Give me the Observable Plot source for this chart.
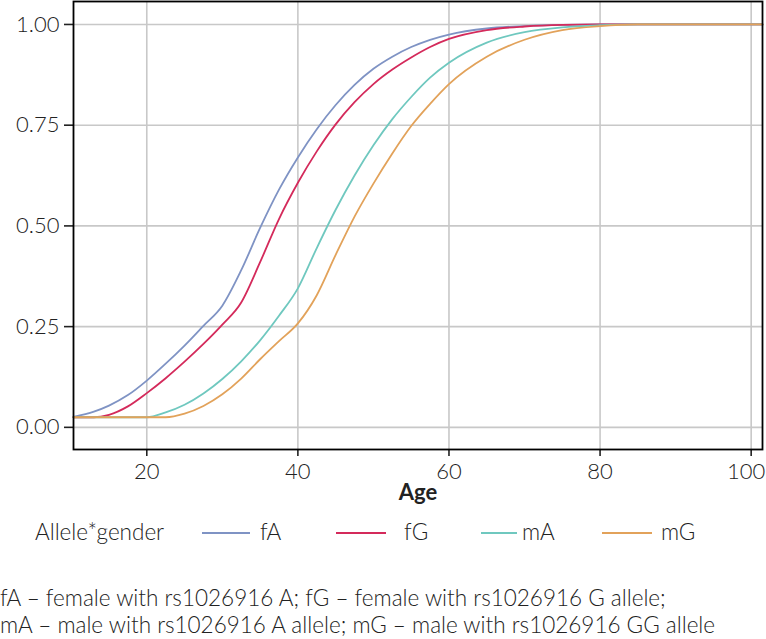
<!DOCTYPE html>
<html><head><meta charset="utf-8">
<script src="https://cdn.jsdelivr.net/npm/d3@7"></script>
<script src="https://cdn.jsdelivr.net/npm/@observablehq/plot@0.6"></script>
<style>
body{margin:0;background:#fff;}
#wrap{position:relative;width:766px;height:639px;overflow:hidden;font-family:Lato,"Open Sans",sans-serif;font-weight:300;color:#222;font-size:22.5px;}
#chart{position:absolute;left:0;top:0;}
g[aria-label="x-axis label"] text{font-weight:700;}
.leg{position:absolute;top:518px;line-height:28px;white-space:nowrap;}
.sw{position:absolute;top:532px;height:2px;}
#caption{position:absolute;left:0;top:585px;line-height:26.5px;white-space:nowrap;}
</style></head><body>
<div id="wrap"><div id="chart"></div><div id="legend"></div>
<div id="caption">fA – female with rs1026916 A; fG – female with rs1026916 G allele;<br>mA – male with rs1026916 A allele; mG – male with rs1026916 GG allele</div></div>
<script>
const ages = [10.3,13,15,17.5,20,22.5,25,27.5,30,32.5,35,37.5,40,42.5,45,47.5,50,52.5,55,57.5,60,65,70,75,80,85,90,101.5];
const fA = [0.026,0.039,0.054,0.080,0.116,0.158,0.203,0.252,0.302,0.390,0.495,0.590,0.670,0.740,0.800,0.850,0.890,0.920,0.944,0.962,0.975,0.990,0.996,0.999,1,1,1,1];
const fG = [0.025,0.025,0.031,0.052,0.085,0.122,0.163,0.207,0.255,0.310,0.410,0.517,0.607,0.685,0.752,0.807,0.852,0.888,0.918,0.944,0.964,0.986,0.995,0.999,1,1,1,1];
const mA = [0.025,0.025,0.025,0.025,0.025,0.037,0.056,0.084,0.120,0.164,0.216,0.277,0.345,0.445,0.540,0.625,0.700,0.765,0.820,0.868,0.905,0.955,0.981,0.993,0.998,1,1,1];
const mG = [0.025,0.025,0.025,0.025,0.025,0.025,0.034,0.053,0.082,0.121,0.169,0.214,0.258,0.328,0.428,0.523,0.605,0.680,0.748,0.803,0.852,0.920,0.962,0.986,0.996,1,1,1];
const seriesNames = ["fA","fG","mA","mG"];
const seriesColors = ["#7f93c4","#d42a5b","#6fc8bf","#e2a25a"];
const xTicks = [20,40,60,80,100];
const yTicks = [0,0.25,0.5,0.75,1];
const legendTitle = "Allele*gender";

const values = [fA,fG,mA,mG];
const rows = seriesNames.flatMap((s,i)=>ages.map((a,j)=>({age:a,p:values[i][j],group:s})));
const lastTick = xTicks[xTicks.length-1];

const chart = Plot.plot({
  width:766,height:510,marginLeft:73,marginRight:4,marginTop:1,marginBottom:61,
  style:{fontFamily:'Lato,"Open Sans",sans-serif',fontSize:"22px",fontWeight:300,color:"#222",background:"white"},
  x:{domain:[10.3,101.5]},
  y:{domain:[-0.055,1.057]},
  color:{domain:seriesNames,range:seriesColors},
  marks:[
    Plot.gridX(xTicks,{stroke:"#c8c8c8",strokeOpacity:1,strokeWidth:1.6}),
    Plot.gridY(yTicks,{stroke:"#c8c8c8",strokeOpacity:1,strokeWidth:1.6}),
    Plot.line(rows,{x:"age",y:"p",stroke:"group",strokeWidth:1.8,curve:"monotone-x"}),
    Plot.axisX(xTicks,{tickSize:7,tickFormat:()=>"",strokeWidth:1.6,label:"Age",labelAnchor:"center",labelArrow:"none",labelOffset:50}),
    Plot.axisX(xTicks.filter(d=>d!==lastTick),{tickSize:0,tickPadding:14,label:null}),
    Plot.axisX([lastTick],{tickSize:0,tickPadding:14,dx:-5,label:null}),
    Plot.axisY(yTicks,{tickSize:9,tickPadding:5,strokeWidth:1.6,tickFormat:d3.format(".2f"),label:null}),
    Plot.frame({stroke:"black",strokeWidth:1.8})
  ]
});
document.getElementById("chart").appendChild(chart);

const leg = document.getElementById("legend");
const swLeft = [202,336,481,602], swW = [48,50,36,50], labLeft = [260,404,522,661];
function add(cls, left, html, style){const d=document.createElement("div");d.className=cls;d.style.left=left+"px";if(style)Object.assign(d.style,style);d.innerHTML=html;leg.appendChild(d);}
add("leg",35,legendTitle);
seriesNames.forEach((s,i)=>{
  add("sw",swLeft[i],"",{width:swW[i]+"px",background:seriesColors[i]});
  add("leg",labLeft[i],s);
});
</script></body></html>
